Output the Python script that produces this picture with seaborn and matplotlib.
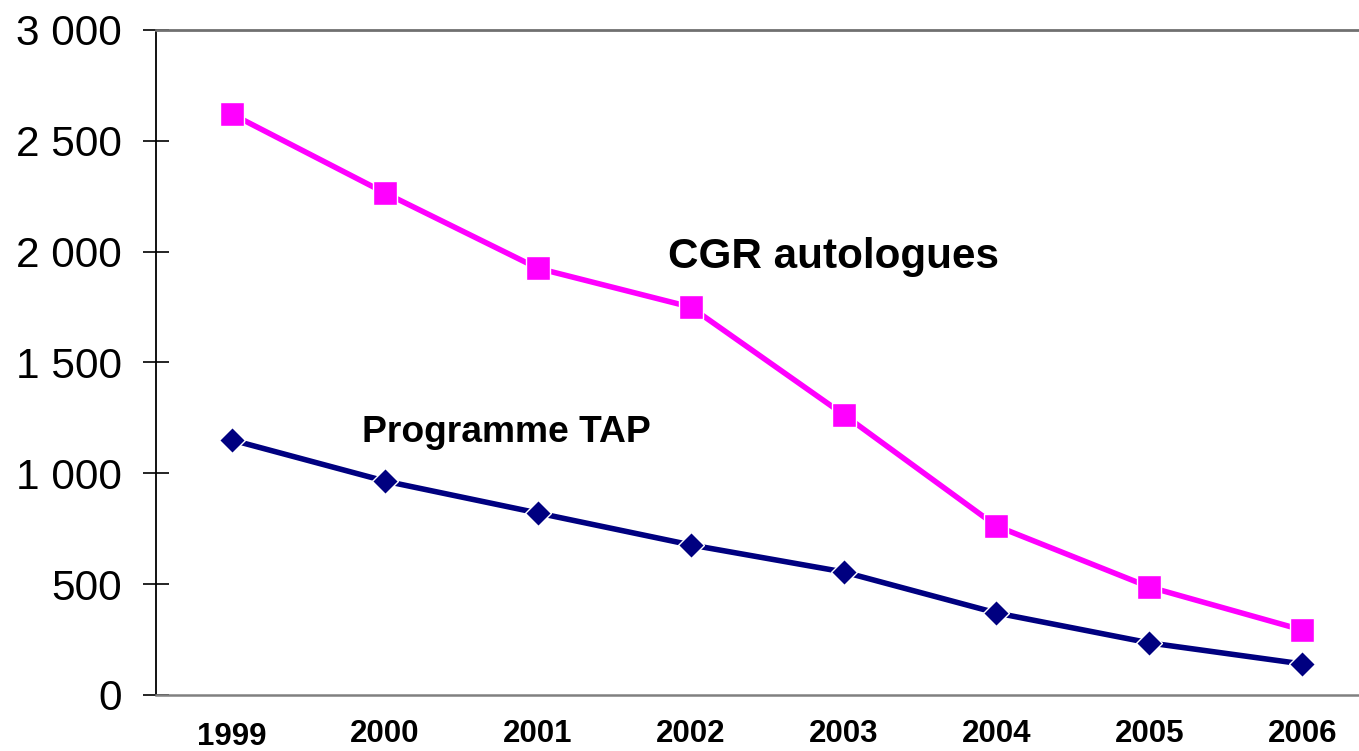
import seaborn as sns
import matplotlib.pyplot as plt
import matplotlib.transforms as mtransforms
import pandas as pd

years = ['1999', '2000', '2001', '2002', '2003', '2004', '2005', '2006']
cgr = [2620, 2265, 1925, 1750, 1265, 762, 487, 293]
tap = [1150, 965, 821, 677, 555, 370, 235, 140]
y_ticks = [0, 500, 1000, 1500, 2000, 2500, 3000]
y_labels = ['0', '500', '1 000', '1 500', '2 000', '2 500', '3 000']

sns.set_style('white')
plt.rcParams['font.family'] = ['Liberation Sans', 'DejaVu Sans']
plt.rcParams['text.color'] = 'black'
plt.rcParams['xtick.color'] = 'black'
plt.rcParams['ytick.color'] = 'black'

df = pd.DataFrame({
    'pos': list(range(len(years))) * 2,
    'val': cgr + tap,
    'serie': ['CGR'] * len(years) + ['TAP'] * len(years),
})

fig = plt.figure(figsize=(13.59, 7.51), dpi=100)
ax = fig.add_axes([0.1145, 0.0746, 0.9, 0.8855])

sns.lineplot(data=df, x='pos', y='val', hue='serie', style='serie',
             palette={'CGR': '#FF00FF', 'TAP': '#000080'},
             markers={'CGR': 's', 'TAP': 'D'}, dashes=False,
             linewidth=4, markersize=17, markeredgewidth=1,
             legend=False, ax=ax)
# diamond a bit smaller
ax.lines[1].set_markersize(13.5)

ax.set_xlim(-0.5, len(years) - 0.5)
ax.set_ylim(0, 3000)
ax.set_xticks(range(len(years)))
ax.set_xticklabels(years, fontsize=22.5, fontweight='bold')
ax.set_yticks(y_ticks)
ax.set_yticklabels(y_labels, fontsize=30.5)
ax.set_xlabel('')
ax.set_ylabel('')

ax.tick_params(axis='x', length=0, pad=17)
ax.tick_params(axis='y', direction='inout', length=19, width=1.2, pad=15, left=True, color='black')

ax.spines['right'].set_visible(False)
ax.spines['left'].set_color('black')
ax.spines['left'].set_linewidth(1.3)
ax.spines['bottom'].set_color('#808080')
ax.spines['bottom'].set_linewidth(1.8)
ax.spines['top'].set_color('#707070')
ax.spines['top'].set_linewidth(2)

# 1999 sits a little lower in the original
lab = ax.get_xticklabels()[0]
lab.set_transform(lab.get_transform() + mtransforms.ScaledTranslation(0, -3 / 100, fig.dpi_scale_trans))

ax.text(2.85, 1926, 'CGR autologues', fontsize=30.4, fontweight='bold', va='baseline')
ax.text(0.85, 1141, 'Programme TAP', fontsize=26.8, fontweight='bold', va='baseline')

fig.savefig('out.png', dpi=100)
